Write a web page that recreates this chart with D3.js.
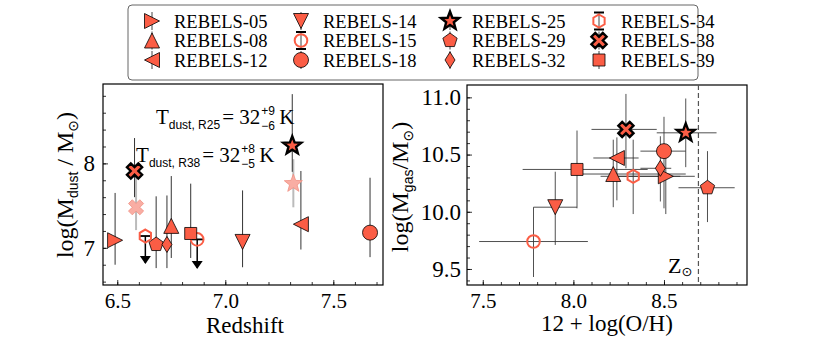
<!DOCTYPE html>
<html>
<head>
<meta charset="utf-8">
<script src="https://cdn.jsdelivr.net/npm/d3@7"></script>
<style>
  body { margin: 0; background: #fff; }
</style>
</head>
<body>
<svg id="chart" width="830" height="340" font-family="Liberation Serif"></svg>
<script>
// galaxy names and marker shapes
var names = ["REBELS-05", "REBELS-08", "REBELS-12", "REBELS-14", "REBELS-15", "REBELS-18",
             "REBELS-25", "REBELS-29", "REBELS-32", "REBELS-34", "REBELS-38", "REBELS-39"];
var shapes = ["triRight", "triUp", "triLeft", "triDown", "openCircle", "circle",
              "star", "pentagon", "diamond", "openHex", "cross", "square"];

// left panel: redshift vs dust mass
var redshift = [6.49, 6.75, 7.35, 7.08, 6.87, 7.67, 7.31, 6.68, 6.73, 6.63, 6.58, 6.84];
var logMdust = [7.09, 7.26, 7.28, 7.07, 7.10, 7.18, 8.21, 7.04, 7.04, 7.14, 7.91, 7.17];
var mdustHi = [7.65, 7.85, 7.91, 7.68, null, 7.83, 8.82, 7.61, 7.62, null, 8.30, 7.76];
var mdustLo = [6.80, 6.88, 6.98, 6.77, 6.76, 6.89, 7.90, 6.76, 6.76, 6.82, 7.60, 6.88];
var upperLimit = [false, false, false, false, true, false, false, false, false, true, false, false];

// pale points (fixed Tdust) for REBELS-25 and REBELS-38
var paleNames = ["REBELS-25", "REBELS-38"];
var paleZ = [7.315, 6.587];
var paleMdust = [7.76, 7.48];
var paleHi = [8.05, 7.84];
var paleLo = [7.48, 7.21];

// right panel: metallicity vs gas mass
var oh = [8.51, 8.22, 8.24, 7.90, 7.78, 8.50, 8.62, 8.74, 8.48, 8.33, 8.29, 8.02];
var ohLo = [8.15, 8.04, 8.11, 7.78, 7.48, 8.37, 8.46, 8.58, 8.37, 8.24, 8.10, 7.72];
var ohHi = [8.67, 8.62, 8.36, 8.02, 8.08, 8.62, 8.79, 8.89, 8.54, 8.59, 8.46, 8.41];
var logMgas = [10.31, 10.33, 10.47, 10.04, 9.74, 10.53, 10.69, 10.21, 10.38, 10.31, 10.72, 10.37];
var mgasLo = [9.98, 10.04, 10.10, 9.71, 9.43, 10.03, 10.39, 9.91, 10.09, 9.98, 10.38, 10.03];
var mgasHi = [10.55, 10.63, 10.65, 10.35, 10.04, 10.83, 10.99, 10.53, 10.66, 10.63, 11.03, 10.71];
var solarOH = 8.69;

// ticks
var zTicks = [6.5, 7.0, 7.5];
var mdustTicks = [7, 8];
var ohTicks = [7.5, 8.0, 8.5];
var mgasTicks = [9.5, 10.0, 10.5, 11.0];

var RED = "#fb5d45";
var PALE = "#f9ada3";
var SERIF = "Liberation Serif";
var SANS = "Liberation Sans";

var svg = d3.select("#chart");

function poly(pts) {
    return "M" + pts.map(function (p) { return p[0].toFixed(2) + "," + p[1].toFixed(2); }).join("L") + "Z";
}
function regular(n, r, rot) {
    var pts = [];
    for (var i = 0; i < n; i++) {
        var a = rot + i * 2 * Math.PI / n;
        pts.push([r * Math.sin(a), -r * Math.cos(a)]);
    }
    return pts;
}
function shapePath(s) {
    var r = 7.5;
    if (s == "triRight") return poly([[r, 0], [-r, -r], [-r, r]]);
    if (s == "triLeft") return poly([[-r, 0], [r, -r], [r, r]]);
    if (s == "triUp") return poly([[0, -r], [-r, r], [r, r]]);
    if (s == "triDown") return poly([[0, r], [-r, -r], [r, -r]]);
    if (s == "circle") return d3.symbol(d3.symbolCircle, Math.PI * 7.5 * 7.5)();
    if (s == "openCircle") return d3.symbol(d3.symbolCircle, Math.PI * 6.3 * 6.3)();
    if (s == "square") return poly([[-6, -6], [6, -6], [6, 6], [-6, 6]]);
    if (s == "pentagon") return poly(regular(5, 7.5, 0));
    if (s == "openHex") return poly(regular(6, 6.5, 0));
    if (s == "diamond") return poly([[0, -8], [5, 0], [0, 8], [-5, 0]]);
    if (s == "star") {
        var pts = [];
        for (var i = 0; i < 10; i++) {
            var rr = i % 2 == 0 ? 9.5 : 4.0;
            var a = i * Math.PI / 5;
            pts.push([rr * Math.sin(a), -rr * Math.cos(a)]);
        }
        return poly(pts);
    }
    if (s == "cross") {
        var t = 2.7, l = 8;
        var base = [[-t, -l], [t, -l], [t, -t], [l, -t], [l, t], [t, t], [t, l], [-t, l], [-t, t], [-l, t], [-l, -t], [-t, -t]];
        var c = Math.SQRT1_2;
        return poly(base.map(function (p) { return [c * (p[0] - p[1]), c * (p[0] + p[1])]; }));
    }
}
function styleMarker(sel, s, name) {
    var open = (s == "openCircle" || s == "openHex");
    var bold = (name == "REBELS-25" || name == "REBELS-38");
    sel.attr("fill", open ? "none" : RED)
        .attr("stroke", open ? RED : "#000")
        .attr("stroke-width", open ? 2 : (bold ? 2.4 : 0.8))
        .attr("stroke-linejoin", "miter");
}

function drawAxes(g, x, y, w, h, xt, xMinor, yt, yMinor, xfmt, yfmt) {
    g.append("g").attr("transform", "translate(0," + h + ")")
        .call(d3.axisBottom(x).tickValues(xMinor).tickFormat("").tickSizeInner(-3).tickSizeOuter(0))
        .call(function (a) { a.select(".domain").remove(); });
    g.append("g").call(d3.axisLeft(y).tickValues(yMinor).tickFormat("").tickSizeInner(-3).tickSizeOuter(0))
        .call(function (a) { a.select(".domain").remove(); });
    g.append("g").attr("class", "xa").attr("transform", "translate(0," + h + ")")
        .call(d3.axisBottom(x).tickValues(xt).tickFormat(xfmt).tickSizeInner(-5).tickSizeOuter(0).tickPadding(8))
        .call(function (a) { a.select(".domain").remove(); });
    g.append("g").attr("class", "ya")
        .call(d3.axisLeft(y).tickValues(yt).tickFormat(yfmt).tickSizeInner(-5).tickSizeOuter(0).tickPadding(8))
        .call(function (a) { a.select(".domain").remove(); });
    g.selectAll("g").attr("font-family", SERIF);
    g.selectAll(".xa .tick text").attr("font-size", 21).attr("fill", "#000");
    g.selectAll(".ya .tick text").attr("font-size", 23).attr("fill", "#000");
    g.selectAll(".tick line").attr("stroke", "#000").attr("stroke-width", 0.8);
    g.append("rect").attr("width", w).attr("height", h)
        .attr("fill", "none").attr("stroke", "#000").attr("stroke-width", 1.2);
}

// ---------- left panel ----------
var L = {left: 103, top: 84, w: 280, h: 201};
var gl = svg.append("g").attr("transform", "translate(" + L.left + "," + L.top + ")");
var xL = d3.scaleLinear().domain([6.434, 7.73]).range([0, L.w]);
var yL = d3.scaleLinear().domain([6.56, 8.94]).range([L.h, 0]);
drawAxes(gl, xL, yL, L.w, L.h, zTicks, d3.range(6.5, 7.75, 0.1), mdustTicks, d3.range(6.6, 8.95, 0.2),
    d3.format(".1f"), d3.format("d"));

// pale points and their error bars
paleNames.forEach(function (n, i) {
    gl.append("line").attr("x1", xL(paleZ[i])).attr("x2", xL(paleZ[i]))
        .attr("y1", yL(paleHi[i])).attr("y2", yL(paleLo[i]))
        .attr("stroke", "#bbb").attr("stroke-width", 2);
});
// error bars
names.forEach(function (n, i) {
    var top = mdustHi[i] == null ? logMdust[i] : mdustHi[i];
    gl.append("line").attr("x1", xL(redshift[i])).attr("x2", xL(redshift[i]))
        .attr("y1", yL(top)).attr("y2", yL(mdustLo[i]))
        .attr("stroke", upperLimit[i] ? "#000" : "#333").attr("stroke-width", upperLimit[i] ? 1.5 : 1);
    if (upperLimit[i]) {
        var cx = xL(redshift[i]), cy = yL(mdustLo[i]);
        gl.append("line").attr("x1", cx - 6).attr("x2", cx + 6)
            .attr("y1", yL(logMdust[i])).attr("y2", yL(logMdust[i]))
            .attr("stroke", "#000").attr("stroke-width", 1.8);
        gl.append("path").attr("d", poly([[cx - 5.5, cy - 7], [cx + 5.5, cy - 7], [cx, cy + 1]])).attr("fill", "#000");
    }
});
paleNames.forEach(function (n, i) {
    var s = shapes[names.indexOf(n)];
    gl.append("path").attr("d", shapePath(s))
        .attr("transform", "translate(" + xL(paleZ[i]) + "," + yL(paleMdust[i]) + ")")
        .attr("fill", PALE).attr("stroke", "#f08f82").attr("stroke-width", 0.8);
});
names.forEach(function (n, i) {
    gl.append("path").attr("d", shapePath(shapes[i]))
        .attr("transform", "translate(" + xL(redshift[i]) + "," + yL(logMdust[i]) + ")")
        .call(styleMarker, shapes[i], n);
});

// Tdust annotations
function tdust(g, x, y, tag, sup, sub) {
    var t = g.append("text").attr("x", x).attr("y", y).attr("font-family", SERIF)
        .attr("font-size", 21).attr("fill", "#000");
    t.append("tspan").text("T");
    t.append("tspan").attr("font-family", SANS).attr("font-size", 12).attr("dy", 5).text("dust, " + tag);
    t.append("tspan").attr("dy", -5).attr("dx", 2).text("= 32");
    var len = t.node().getComputedTextLength() + 2;
    g.append("text").attr("x", x + len + 1).attr("y", y - 9).attr("font-family", SANS)
        .attr("font-size", 12).text(sup);
    g.append("text").attr("x", x + len + 1).attr("y", y + 6).attr("font-family", SANS)
        .attr("font-size", 12).text(sub);
    g.append("text").attr("x", x + len + 19).attr("y", y).attr("font-family", SERIF)
        .attr("font-size", 21).text("K");
}
tdust(gl, xL(6.679), yL(8.467), "R25", "+9", "\u22126");
tdust(gl, xL(6.587), yL(8.012), "R38", "+8", "\u22125");

// axis labels
svg.append("text").attr("x", L.left + L.w / 2 + 2).attr("y", 333).attr("text-anchor", "middle")
    .attr("font-family", SERIF).attr("font-size", 23).text("Redshift");
var yl = svg.append("text").attr("transform", "translate(73,185) rotate(-90)").attr("text-anchor", "middle")
    .attr("font-family", SERIF).attr("font-size", 24);
yl.append("tspan").text("log(M");
yl.append("tspan").attr("font-family", SANS).attr("font-size", 14).attr("dy", 5).text("dust");
yl.append("tspan").attr("dy", -5).text(" / M");
yl.append("tspan").attr("font-family", "DejaVu Sans").attr("font-size", 14).attr("dy", 5).text("\u2299");
yl.append("tspan").attr("dy", -5).text(")");

// ---------- right panel ----------
var R = {left: 467, top: 85, w: 280, h: 200};
var gr = svg.append("g").attr("transform", "translate(" + R.left + "," + R.top + ")");
var xR = d3.scaleLinear().domain([7.413, 8.958]).range([0, R.w]);
var yR = d3.scaleLinear().domain([9.36, 11.108]).range([R.h, 0]);
drawAxes(gr, xR, yR, R.w, R.h, ohTicks, d3.range(7.5, 8.95, 0.1), mgasTicks, d3.range(9.4, 11.1, 0.1),
    d3.format(".1f"), d3.format(".1f"));
gr.selectAll(".ya .tick text").attr("x", -6);

gr.append("line").attr("x1", xR(solarOH)).attr("x2", xR(solarOH)).attr("y1", 0).attr("y2", R.h)
    .attr("stroke", "#555").attr("stroke-width", 1.2).attr("stroke-dasharray", "5,3");
var zs = gr.append("text").attr("x", xR(solarOH) - 6).attr("y", 188).attr("text-anchor", "end")
    .attr("font-family", SERIF).attr("font-size", 22);
zs.append("tspan").text("Z");
zs.append("tspan").attr("font-family", "DejaVu Sans").attr("font-size", 13).attr("dy", 3).text("\u2299");

names.forEach(function (n, i) {
    gr.append("line").attr("x1", xR(ohLo[i])).attr("x2", xR(ohHi[i]))
        .attr("y1", yR(logMgas[i])).attr("y2", yR(logMgas[i]))
        .attr("stroke", "#333").attr("stroke-width", 1).attr("opacity", 0.85);
    gr.append("line").attr("x1", xR(oh[i])).attr("x2", xR(oh[i]))
        .attr("y1", yR(mgasLo[i])).attr("y2", yR(mgasHi[i]))
        .attr("stroke", "#333").attr("stroke-width", 1).attr("opacity", 0.85);
});
names.forEach(function (n, i) {
    gr.append("path").attr("d", shapePath(shapes[i]))
        .attr("transform", "translate(" + xR(oh[i]) + "," + yR(logMgas[i]) + ")")
        .call(styleMarker, shapes[i], n);
});

svg.append("text").attr("x", R.left + R.w / 2).attr("y", 331).attr("text-anchor", "middle")
    .attr("font-family", SERIF).attr("font-size", 23).text("12 + log(O/H)");
var yr = svg.append("text").attr("transform", "translate(408,187) rotate(-90)").attr("text-anchor", "middle")
    .attr("font-family", SERIF).attr("font-size", 24);
yr.append("tspan").text("log(M");
yr.append("tspan").attr("font-family", SANS).attr("font-size", 14).attr("dy", 5).text("gas");
yr.append("tspan").attr("dy", -5).text("/M");
yr.append("tspan").attr("font-family", "DejaVu Sans").attr("font-size", 14).attr("dy", 5).text("\u2299");
yr.append("tspan").attr("dy", -5).text(")");

// ---------- legend ----------
var lg = svg.append("g");
lg.append("rect").attr("x", 128).attr("y", 5).attr("width", 570).attr("height", 75).attr("rx", 4)
    .attr("fill", "#fff").attr("stroke", "#666").attr("stroke-width", 1);
names.forEach(function (n, i) {
    var col = Math.floor(i / 3), row = i % 3;
    var mx = 152 + col * 149, my = 21 + row * 19.5;
    lg.append("line").attr("x1", mx).attr("x2", mx).attr("y1", my - 9).attr("y2", my + 9)
        .attr("stroke", "#444").attr("stroke-width", 1);
    if (upperLimit[i]) {
        [my - 8.5, my + 8.5].forEach(function (cy) {
            lg.append("line").attr("x1", mx - 5).attr("x2", mx + 5).attr("y1", cy).attr("y2", cy)
                .attr("stroke", "#000").attr("stroke-width", 2);
        });
    }
    lg.append("path").attr("d", shapePath(shapes[i])).attr("transform", "translate(" + mx + "," + my + ")")
        .call(styleMarker, shapes[i], n);
    lg.append("text").attr("x", mx + 22).attr("y", my + 6.5).attr("font-family", SERIF)
        .attr("font-size", 18.5).text(n);
});
</script>
</body>
</html>
